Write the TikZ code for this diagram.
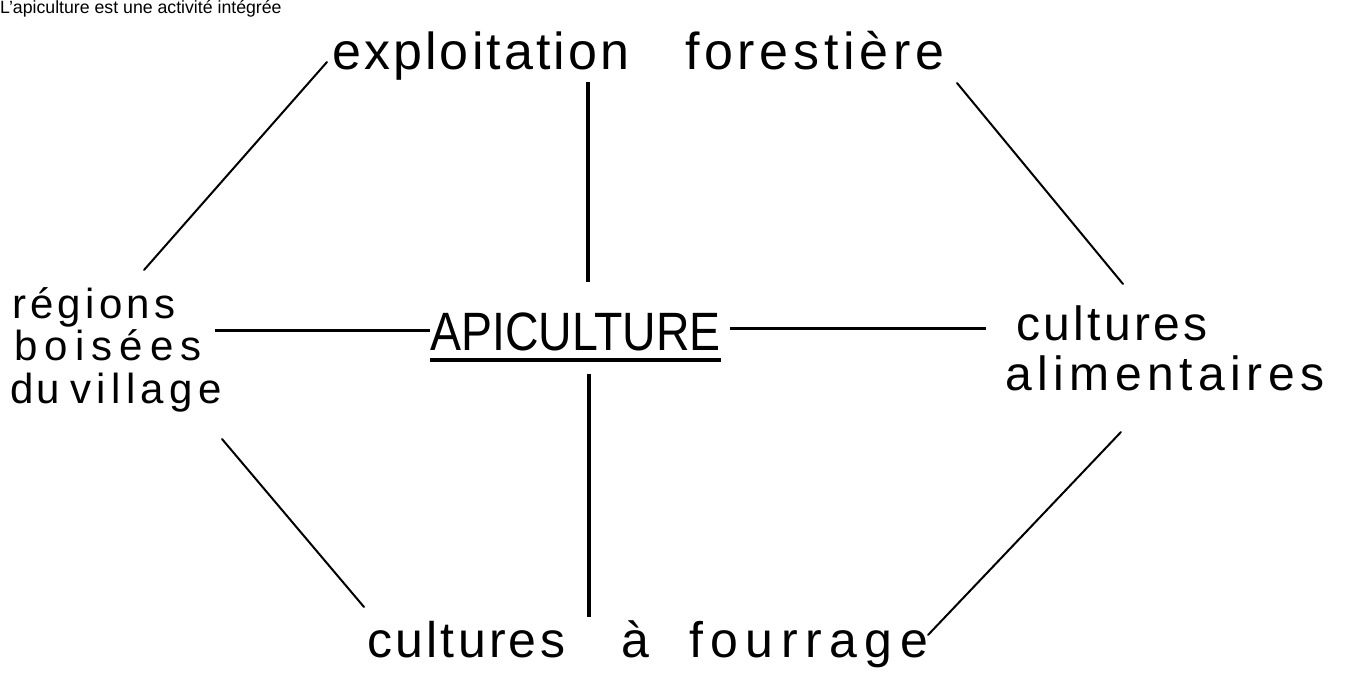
\documentclass[tikz,border=0pt]{standalone}
\usepackage{fontspec}
\setmainfont{Liberation Sans}
\newfontfamily\hand{Liberation Sans}
\newcommand{\hw}[2]{\hand\fontsize{#1}{#1}\selectfont\addfontfeatures{LetterSpace=#2}}
\begin{document}
\begin{tikzpicture}[x=1pt,y=-1pt,
  lbl/.style={inner sep=0pt, anchor=base west},
  link/.style={line width=2pt, line cap=round},
  thick link/.style={line width=3.5pt, line cap=butt},
  hlink/.style={line width=3pt, line cap=butt}]
\useasboundingbox[fill=white] (0,0) rectangle (1347,688);
% title
\node[lbl, font=\fontsize{17.7}{17.7}\selectfont] (title) at (0,13) {L'apiculture est une activité intégrée};
% labels
\node[lbl, font=\hw{52}{6}] (ef1) at (332,69) {exploitation};
\node[lbl, font=\hw{52}{9}] (ef2) at (685,69) {forestière};
\node[lbl, font=\hand\fontsize{54}{54}\selectfont] (ap) at (430,350) {\scalebox{0.86}[1]{APICULTURE}};
\node[lbl, font=\hw{42}{10}] (rg1) at (12,318) {régions};
\node[lbl, font=\hw{42}{17}] (rg2) at (14,360) {boisées};
\node[lbl, font=\hw{42}{6}] (rg3a) at (10,403) {du};
\node[lbl, font=\hw{42}{13}] (rg3b) at (70,403) {village};
\node[lbl, font=\hw{48}{7}] (ca1) at (1016,340) {cultures};
\node[lbl, font=\hw{48}{11.5}] (ca2) at (1005,390) {alimentaires};
\node[lbl, font=\hw{50}{6.5}] (cf1) at (367,657) {cultures};
\node[lbl, font=\hw{50}{0}] (cf2) at (621,657) {à};
\node[lbl, font=\hw{50}{15}] (cf3) at (689,657) {fourrage};
% connector end points
\coordinate (ulA) at (327,62);  \coordinate (ulB) at (144,270);
\coordinate (urA) at (957,83);  \coordinate (urB) at (1123,284);
\coordinate (llA) at (222,439); \coordinate (llB) at (364,607);
\coordinate (lrA) at (1121,432);\coordinate (lrB) at (928,635);
\coordinate (vtA) at (588,82);  \coordinate (vtB) at (588,282);
\coordinate (vbA) at (589,374); \coordinate (vbB) at (589,617);
\coordinate (hlA) at (215,330); \coordinate (hlB) at (430,330);
\coordinate (hrA) at (730,328); \coordinate (hrB) at (986,328);
% connectors
\draw[link] (ulA) -- (ulB);
\draw[link] (urA) -- (urB);
\draw[link] (llA) -- (llB);
\draw[link] (lrA) -- (lrB);
\draw[thick link] (vtA) -- (vtB);
\draw[thick link] (vbA) -- (vbB);
\draw[hlink] (hlA) -- (hlB);
\draw[hlink] (hrA) -- (hrB);
% underline
\draw[line width=4pt] ([yshift=-10pt]ap.base west) -- ([yshift=-10pt]ap.base east);
\end{tikzpicture}
\end{document}
